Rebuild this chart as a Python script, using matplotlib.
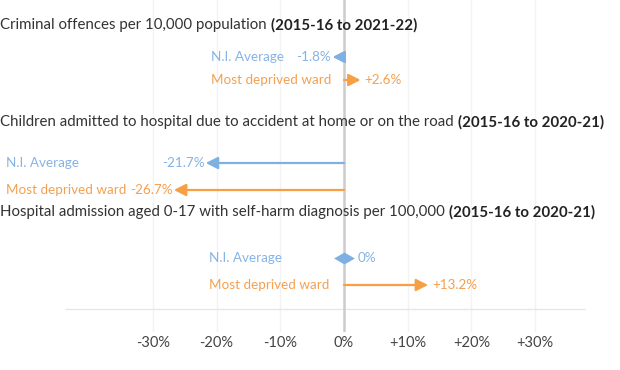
import matplotlib
matplotlib.use("Agg")
import matplotlib.pyplot as plt
from matplotlib.path import Path

plt.rcParams['font.family'] = ['Lato', 'DejaVu Sans']

# ---- data ----
titles = [
    "Criminal offences per 10,000 population",
    "Children admitted to hospital due to accident at home or on the road",
    "Hospital admission aged 0-17 with self-harm diagnosis per 100,000",
]
periods = ["(2015-16 to 2021-22)", "(2015-16 to 2020-21)", "(2015-16 to 2020-21)"]
series_names = ["N.I. Average", "Most deprived ward"]
ni_average = [-1.8, -21.7, 0.0]
most_deprived = [2.6, -26.7, 13.2]
value_labels_ni = ["-1.8%", "-21.7%", "0%"]
value_labels_md = ["+2.6%", "-26.7%", "+13.2%"]
tick_values = [-30, -20, -10, 0, 10, 20, 30]
tick_labels = ["-30%", "-20%", "-10%", "0%", "+10%", "+20%", "+30%"]

# ---- layout (pixels) ----
W, H = 620, 370
AX_BOTTOM_PX = 332
PX_PER_PCT = 6.37
ZERO_PX = 344
xmin = -ZERO_PX / PX_PER_PCT
xmax = (W - ZERO_PX) / PX_PER_PCT

title_y = [25, 122, 212]
row_y = [[57, 80], [163, 190], [258, 285]]
label_left = [-20.9, -53.0, -21.2]

blue = "#7fb0e2"
blue_txt = "#86b3e6"
orange = "#f69f45"
orange_txt = "#f4a050"
dark = "#333333"

fig = plt.figure(figsize=(W / 100, H / 100), dpi=100)
ax = fig.add_axes([0, 1 - AX_BOTTOM_PX / H, 1, AX_BOTTOM_PX / H])
ax.set_xlim(xmin, xmax)
ax.set_ylim(AX_BOTTOM_PX, 0)
for s in ax.spines.values():
    s.set_visible(False)

# grid
for t in tick_values:
    if t == 0:
        ax.axvline(t, color="#cccccc", lw=1.8, zorder=1)
    else:
        ax.axvline(t, color="#f3f3f3", lw=1, zorder=0)
ax.hlines(309, (65 - ZERO_PX) / PX_PER_PCT, (585 - ZERO_PX) / PX_PER_PCT,
          color="#e6e6e6", lw=1, zorder=0)

ax.set_xticks(tick_values)
ax.set_xticklabels(tick_labels)
ax.tick_params(axis='x', length=0, pad=3, labelsize=10.5, labelcolor="#444444")
ax.set_yticks([])

diamond = Path([(-1.4, 0), (0, 0.8), (1.4, 0), (0, -0.8), (-1.4, 0)],
               [Path.MOVETO, Path.LINETO, Path.LINETO, Path.LINETO, Path.CLOSEPOLY])

fs = 9.7
tfs = 10.85
for i in range(3):
    t1 = ax.text(xmin, title_y[i], titles[i] + " ", fontsize=tfs,
                 color=dark, va='center', ha='left')
    ax.annotate(periods[i], xy=(1, 0.5), xycoords=t1, va='center', ha='left',
                fontsize=tfs, fontweight='bold', color="#222222")
    vals = [ni_average[i], most_deprived[i]]
    vlabs = [value_labels_ni[i], value_labels_md[i]]
    cols = [blue, orange]
    tcols = [blue_txt, orange_txt]
    for j in range(2):
        y = row_y[i][j]
        v = vals[j]
        ax.text(label_left[i], y, series_names[j], fontsize=fs, color=tcols[j],
                va='center', ha='left')
        if v == 0:
            ax.plot([v], [y], marker=diamond, ms=15, color=cols[j], mew=0, zorder=3)
            ax.annotate(vlabs[j], xy=(v, y), xytext=(10, 0), textcoords='offset points',
                        fontsize=fs, color=tcols[j], va='center', ha='left')
        else:
            ax.annotate("", xy=(v, y), xytext=(0, y),
                        arrowprops=dict(arrowstyle='-|>,head_length=0.65,head_width=0.33',
                                        color=cols[j], lw=1.6, shrinkA=0, shrinkB=0,
                                        mutation_scale=11), zorder=3)
            if v > 0:
                ax.annotate(vlabs[j], xy=(v, y), xytext=(3, 0), textcoords='offset points',
                            fontsize=fs, color=tcols[j], va='center', ha='left')
            else:
                ax.annotate(vlabs[j], xy=(v, y), xytext=(-1, 0), textcoords='offset points',
                            fontsize=fs, color=tcols[j], va='center', ha='right')

fig.savefig("out.png", dpi=100)
